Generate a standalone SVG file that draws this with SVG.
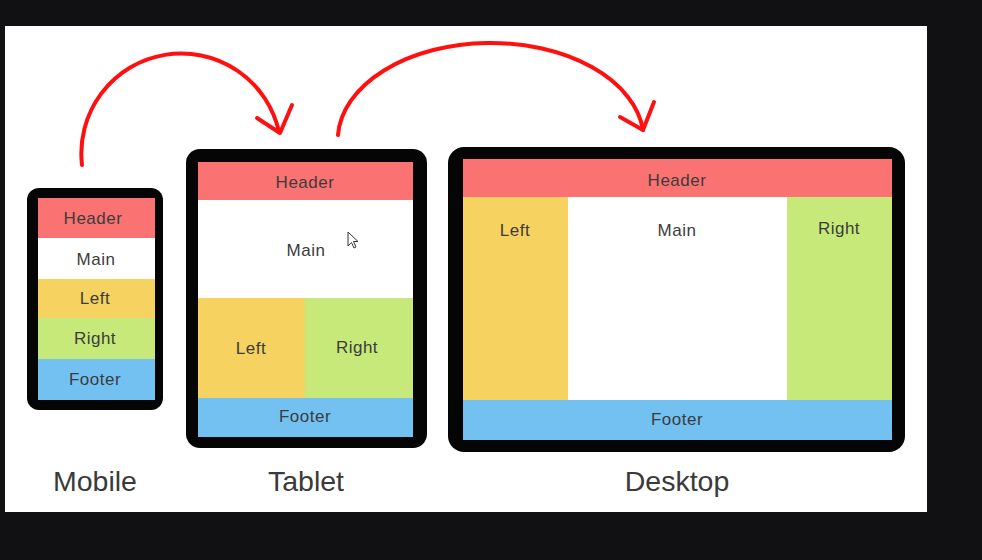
<svg xmlns="http://www.w3.org/2000/svg" width="982" height="560" viewBox="0 0 982 560">
<style>
.frame{fill:#050505}
.hd{fill:#fb7272}
.mn{fill:#ffffff}
.lt{fill:#f6d260}
.rt{fill:#c7e979}
.ft{fill:#72c1f1}
.lbl{font-family:"Liberation Sans",Arial,sans-serif;font-size:17px;letter-spacing:0.5px;fill:#3c3c3c;text-anchor:middle;dominant-baseline:central}
.cap{font-family:"Liberation Sans",Arial,sans-serif;font-size:28.5px;fill:#3a3a3a;text-anchor:middle}
.arc{fill:none;stroke:#ff1010;stroke-width:4;stroke-linecap:round;stroke-linejoin:round}
</style>
<rect x="0" y="0" width="982" height="560" fill="#111114"/>
<rect x="5" y="26" width="922" height="486" fill="#ffffff"/>

<g id="connectors">
<path class="arc" d="M82,165 A100,100 0 0 1 279,132"/>
<polyline class="arc" points="257,118 280,133 292,105"/>
<path class="arc" d="M338,135 A153,97 0 0 1 643,130"/>
<polyline class="arc" points="620,117 643,130 654,102"/>
</g>

<g id="mobile">
<rect class="frame" x="27" y="188" width="136" height="222" rx="12"/>
<rect class="hd" x="38" y="198" width="117" height="40"/>
<rect class="mn" x="38" y="238" width="117" height="41"/>
<rect class="lt" x="38" y="279" width="117" height="39"/>
<rect class="rt" x="38" y="318" width="117" height="41"/>
<rect class="ft" x="38" y="359" width="117" height="41"/>
<text class="lbl" x="93" y="218">Header</text>
<text class="lbl" x="96" y="259">Main</text>
<text class="lbl" x="95" y="298">Left</text>
<text class="lbl" x="95" y="338">Right</text>
<text class="lbl" x="95" y="379">Footer</text>
<text class="cap" x="95" y="491">Mobile</text>
</g>

<g id="tablet">
<rect class="frame" x="186" y="149" width="241" height="299" rx="14"/>
<rect class="hd" x="198" y="162" width="215" height="38"/>
<rect class="mn" x="198" y="200" width="215" height="98"/>
<rect class="lt" x="198" y="298" width="107" height="100"/>
<rect class="rt" x="305" y="298" width="108" height="100"/>
<rect class="ft" x="198" y="398" width="215" height="39"/>
<text class="lbl" x="305" y="182">Header</text>
<text class="lbl" x="306" y="250">Main</text>
<text class="lbl" x="251" y="348">Left</text>
<text class="lbl" x="357" y="347">Right</text>
<text class="lbl" x="305" y="416">Footer</text>
<path d="M348,232 L348,246 L351.5,242.5 L354,248 L356,247 L353.5,241.5 L358,241.5 Z" fill="#ffffff" stroke="#333333" stroke-width="1"/>
<text class="cap" x="306" y="491">Tablet</text>
</g>

<g id="desktop">
<rect class="frame" x="448" y="147" width="457" height="305" rx="16"/>
<rect class="hd" x="463" y="159" width="429" height="38"/>
<rect class="lt" x="463" y="197" width="105" height="203"/>
<rect class="mn" x="568" y="197" width="219" height="203"/>
<rect class="rt" x="787" y="197" width="105" height="203"/>
<rect class="ft" x="463" y="400" width="429" height="40"/>
<text class="lbl" x="677" y="180">Header</text>
<text class="lbl" x="515" y="230">Left</text>
<text class="lbl" x="677" y="230">Main</text>
<text class="lbl" x="839" y="228">Right</text>
<text class="lbl" x="677" y="419">Footer</text>
<text class="cap" x="677" y="491">Desktop</text>
</g>
</svg>
